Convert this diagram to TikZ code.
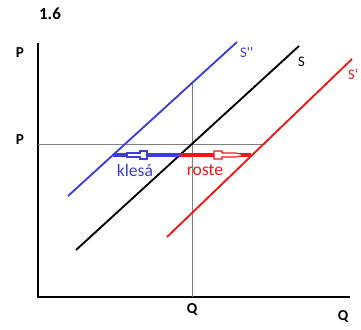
\documentclass[tikz,border=0pt]{standalone}
\usepackage{fontspec}
\setmainfont{Carlito}
\usepackage{tikz}
\usetikzlibrary{arrows.meta, positioning}
\definecolor{sblue}{RGB}{62,62,214}
\definecolor{sred}{RGB}{236,24,24}
\definecolor{guide}{RGB}{128,128,128}

\begin{document}
\begin{tikzpicture}[x=0.03cm, y=-0.03cm,
        axis/.style={draw=black, line width=1.8pt},
        curve/.style={line width=1.6pt},
        guideline/.style={draw=guide, line width=0.8pt},
        shiftline/.style={line width=3.2pt},
        hollow/.style={line width=0.9pt, fill=white},
        axlabel/.style={inner sep=0pt, font=\bfseries\fontsize{13}{13}\selectfont},
        curvelabel/.style={inner sep=0pt, font=\fontsize{12.5}{12.5}\selectfont},
        movelabel/.style={inner sep=0pt, font=\fontsize{15}{15}\selectfont},
        >=Stealth]

    \useasboundingbox (0,0) rectangle (361,329);

    % axes
    \coordinate (Ptop) at (38,43);
    \coordinate (O) at (38,297);
    \coordinate (Qend) at (350,297);
    \draw[axis] (Ptop) -- (O) -- (Qend);

    \node[font=\bfseries\fontsize{14.5}{14.5}\selectfont, inner sep=0pt] (title) at (50,14) {1.6};
    \node[axlabel] (Plab) at (20,53) {P};
    \node[axlabel] (Peq) at (20,140) {P};
    \node[axlabel] (Qeq) at (192,309) {Q};
    \node[axlabel] (Qlab) at (343,316) {Q};

    % equilibrium guides
    \coordinate (Pg) at (38,144);
    \coordinate (Pr) at (265,144);
    \coordinate (Qtop) at (192,81);
    \coordinate (Qg) at (192,297);
    \draw[guideline] (Pg) -- (Pr);
    \draw[guideline] (Qtop) -- (Qg);

    % supply curves
    \coordinate (SBlo) at (68,196);
    \coordinate (SBhi) at (237,42);
    \coordinate (Slo) at (76,250);
    \coordinate (Shi) at (299,46);
    \coordinate (SRlo) at (167,237);
    \coordinate (SRhi) at (352,59);
    \draw[curve, sblue] (SBlo) -- (SBhi);
    \draw[curve, black] (Slo) -- (Shi);
    \draw[curve, sred] (SRlo) -- (SRhi);
    \node[curvelabel, text=sblue, anchor=west] (SBlab) at (240,53) {S\textquotesingle\textquotesingle};
    \node[curvelabel, anchor=west] (Slab) at (298,62) {S};
    \node[curvelabel, text=sred, anchor=west] (SRlab) at (348,75) {S\textquotesingle};

    % shifts
    \coordinate (Kl) at (113,155);
    \coordinate (Mid) at (181,155);
    \coordinate (Ro) at (251,155);
    \draw[shiftline, sblue] (Kl) -- (Mid);
    \draw[shiftline, sred] (Mid) -- (Ro);
    \draw[hollow, draw=sblue] (127,153) -- (140,153) -- (140,151) -- (147,151)
        -- (147,159) -- (140,159) -- (140,157) -- (127,157) -- cycle;
    \draw[hollow, draw=sred] (214,151) -- (222,151) -- (222,153) -- (236,153)
        -- (245,155) -- (236,157) -- (222,157) -- (222,159) -- (214,159) -- cycle;
    \node[movelabel, text=sblue] (klesa) at (135,170) {klesá};
    \node[movelabel, text=sred] (roste) at (205,170) {roste};

\end{tikzpicture}
\end{document}
